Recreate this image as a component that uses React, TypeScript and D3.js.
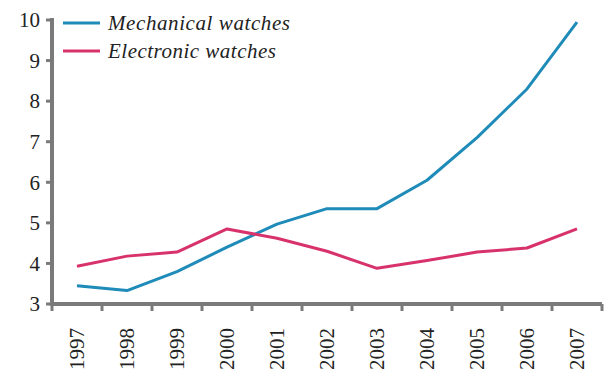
import React from "react";
import * as d3 from "d3";

const years = ["1997","1998","1999","2000","2001","2002","2003","2004","2005","2006","2007"];
const mechanical = [3.45, 3.33, 3.8, 4.4, 4.97, 5.35, 5.35, 6.05, 7.1, 8.3, 9.95];
const electronic = [3.93, 4.18, 4.28, 4.85, 4.62, 4.3, 3.88, 4.07, 4.28, 4.38, 4.85];
const yTicks = [3, 4, 5, 6, 7, 8, 9, 10];
const seriesNames = ["Mechanical watches", "Electronic watches"];
const legendWidths = [182, 168];
const colors = ["#1e8bb8", "#d8326c"];

const W = 604, H = 381;
const left = 52, right = 602, top = 20, bottom = 304;
const font = "'Liberation Serif', 'DejaVu Serif', serif";
const axisColor = "#7a7a7a";

export default function App() {
  const x = d3.scaleBand<string>().domain(years).range([left, right]);
  const y = d3.scaleLinear().domain([3, 10]).range([bottom, top]);
  const line = d3.line<number>()
    .x((_, i) => (x(years[i]) as number) + x.bandwidth() / 2)
    .y((d) => y(d));
  const series = [mechanical, electronic];
  return (
    <svg width={W} height={H} style={{ position: "absolute", left: 0, top: 0, background: "#fff" }}>
      {series.map((s, i) => (
        <path key={i} d={line(s) || ""} fill="none" stroke={colors[i]} strokeWidth={3} strokeLinejoin="round" />
      ))}
      {/* y axis */}
      <line x1={left} x2={left} y1={top - 2} y2={bottom + 2} stroke={axisColor} strokeWidth={4} />
      {yTicks.map((t) => (
        <g key={t}>
          <line x1={left - 6} x2={left} y1={y(t)} y2={y(t)} stroke={axisColor} strokeWidth={3} />
          <text x={left - 12} y={y(t)} dy="0.35em" textAnchor="end" fontFamily={font} fontSize={21} fill="#222">{t}</text>
        </g>
      ))}
      {/* x axis */}
      <line x1={left - 2} x2={right} y1={bottom} y2={bottom} stroke={axisColor} strokeWidth={4} />
      <line x1={left} x2={left} y1={bottom} y2={bottom + 7} stroke={axisColor} strokeWidth={3} />
      {years.map((yr) => {
        const x0 = x(yr) as number;
        return (
          <g key={yr}>
            <line x1={x0 + x.bandwidth()} x2={x0 + x.bandwidth()} y1={bottom} y2={bottom + 7} stroke={axisColor} strokeWidth={3} />
            <text transform={`translate(${x0 + x.bandwidth() / 2 + 7},${bottom + 24}) rotate(-90)`} textAnchor="end" fontFamily={font} fontSize={21} fill="#222">{yr}</text>
          </g>
        );
      })}
      {/* legend */}
      {seriesNames.map((n, i) => (
        <g key={n}>
          <line x1={63} x2={100} y1={23 + i * 28} y2={23 + i * 28} stroke={colors[i]} strokeWidth={3} />
          <text x={108} y={23 + i * 28} dy="0.35em" fontFamily={font} fontStyle="italic" fontSize={21} textLength={legendWidths[i]} lengthAdjust="spacing" fill="#222">{n}</text>
        </g>
      ))}
    </svg>
  );
}
